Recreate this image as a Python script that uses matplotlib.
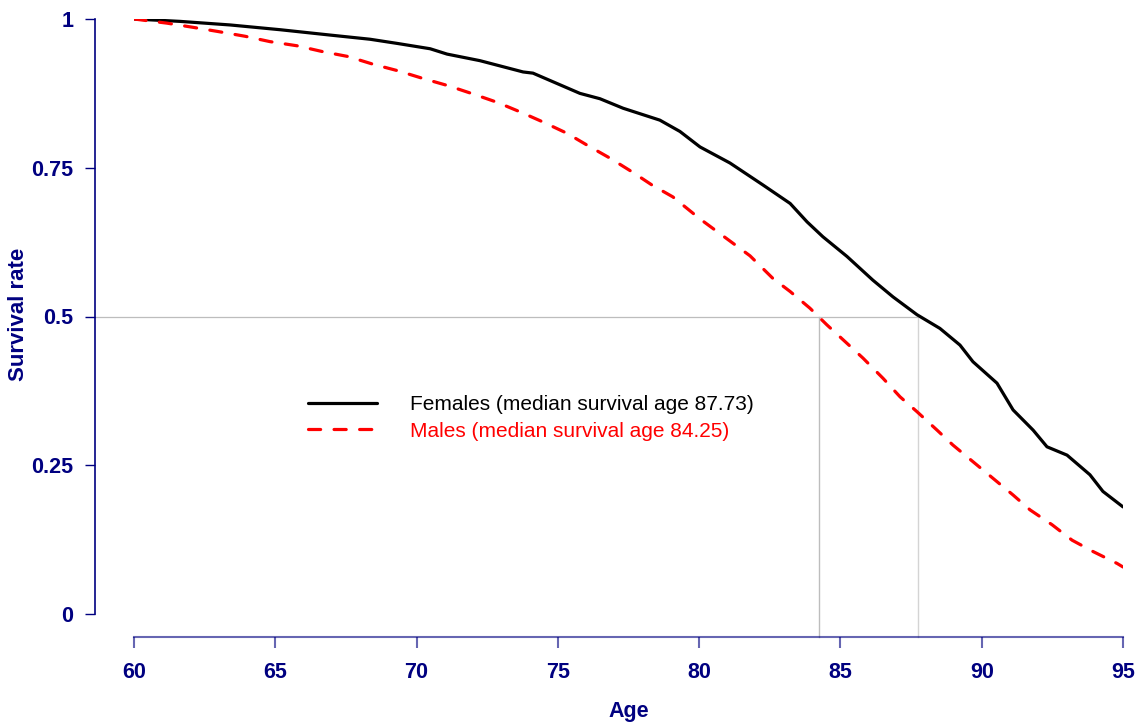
import matplotlib
matplotlib.use("Agg")
import matplotlib.pyplot as plt
from matplotlib.transforms import blended_transform_factory

# ---- data ----
female_age = [60.00, 61.63, 63.40, 65.17, 66.94, 68.35, 69.31, 70.48, 71.08, 72.24,
              73.77, 74.12, 75.78, 76.49, 77.31, 78.61, 79.32, 80.03, 81.09, 82.26,
              83.22, 83.82, 84.38, 85.23, 86.15, 86.86, 87.71, 88.52, 89.23, 89.69,
              90.54, 91.11, 91.82, 92.31, 93.02, 93.83, 94.29, 95.00]
female_surv = [1.000, 0.996, 0.990, 0.982, 0.973, 0.966, 0.959, 0.950, 0.941, 0.930,
               0.911, 0.909, 0.875, 0.866, 0.850, 0.830, 0.811, 0.785, 0.758, 0.721,
               0.690, 0.659, 0.634, 0.601, 0.561, 0.533, 0.503, 0.480, 0.452, 0.424,
               0.388, 0.343, 0.309, 0.281, 0.267, 0.234, 0.206, 0.180]
male_age = [60.00, 61.17, 62.09, 62.97, 63.93, 64.81, 65.77, 66.69, 67.57, 68.46,
            69.34, 70.23, 71.11, 72.00, 72.85, 73.66, 74.47, 75.32, 76.07, 76.85,
            77.63, 78.33, 79.07, 80.03, 81.80, 82.61, 83.22, 83.92, 84.52, 85.23,
            85.80, 86.51, 87.11, 87.71, 88.42, 88.98, 89.69, 90.40, 91.11, 91.71,
            92.49, 93.20, 93.94, 94.79, 95.00]
male_surv = [1.000, 0.993, 0.986, 0.979, 0.971, 0.962, 0.955, 0.945, 0.937, 0.924,
             0.913, 0.900, 0.888, 0.874, 0.860, 0.844, 0.827, 0.808, 0.787, 0.766,
             0.743, 0.721, 0.701, 0.664, 0.602, 0.564, 0.542, 0.514, 0.486, 0.455,
             0.430, 0.396, 0.365, 0.340, 0.309, 0.284, 0.256, 0.228, 0.200, 0.175,
             0.150, 0.124, 0.105, 0.085, 0.079]
median_female = 87.73
median_male = 84.25
x_ticks = [60, 65, 70, 75, 80, 85, 90, 95]
y_ticks = [0, 0.25, 0.5, 0.75, 1]
y_ticklabels = ["0", "0.25", "0.5", "0.75", "1"]
labels = ["Females (median survival age 87.73)", "Males (median survival age 84.25)"]

plt.rcParams['font.family'] = ['Liberation Sans', 'DejaVu Sans']
navy = '#000080'

W, H = 1136, 723
fig = plt.figure(figsize=(W / 100, H / 100), dpi=100)
L, R, T, B = 134, 1123, 19, 614
ax = fig.add_axes([L / W, 1 - B / H, (R - L) / W, (B - T) / H])
ax.set_xlim(60, 95)
ax.set_ylim(0, 1)

off_left_px = 39
off_bottom_px = 23
for s in ['top', 'right']:
    ax.spines[s].set_visible(False)
ax.spines['left'].set_position(('outward', off_left_px * 0.72))
ax.spines['bottom'].set_position(('outward', off_bottom_px * 0.72))
ax.spines['left'].set_color(navy)
ax.spines['left'].set_linewidth(1.2)
ax.spines['bottom'].set_color(navy)
ax.spines['bottom'].set_alpha(0.6)
ax.spines['bottom'].set_linewidth(1.5)

ax.set_xticks(x_ticks)
ax.set_yticks(y_ticks)
ax.set_yticklabels(y_ticklabels)
ax.tick_params(axis='y', colors=navy, length=7.2, width=1.0, pad=8.2, labelsize=15.5)
ax.tick_params(axis='x', colors=navy, length=7.8, width=1.5, pad=10.2, labelsize=15.5)
for lab in ax.get_yticklabels():
    lab.set_fontweight('bold')
for lab in ax.get_xticklabels():
    lab.set_fontweight('bold')
for t in ax.xaxis.get_ticklines():
    t.set_alpha(0.6)

fig.text(629 / W, 1 - 711 / H, 'Age', fontsize=15.5, fontweight='bold', color=navy,
         ha='center', va='center')
fig.text(19 / W, 1 - 314 / H, 'Survival rate', fontsize=16, fontweight='bold', color=navy,
         ha='center', va='center', rotation=90)

# median guide lines
axw = R - L
axh = B - T
tx = blended_transform_factory(ax.transAxes, ax.transData)
x_med_f = (median_female - 60) / 35
ax.plot([-off_left_px / axw, x_med_f], [0.5, 0.5], transform=tx, color='#bdbdbd',
        lw=0.9, clip_on=False, zorder=1)
ty = blended_transform_factory(ax.transData, ax.transAxes)
for m, c in [(median_male, '#bdbdbd'), (median_female, '#d4d4d4')]:
    ax.plot([m, m], [-off_bottom_px / axh, 0.5], transform=ty, color=c,
            lw=1.0, clip_on=False, zorder=1)

lf, = ax.plot(female_age, female_surv, color='black', lw=2.3, zorder=3,
              solid_capstyle='round', solid_joinstyle='round')
lm, = ax.plot(male_age, male_surv, color='red', lw=2.3, zorder=3,
              dashes=(3.8, 4.2), dash_capstyle='round')

leg = ax.legend([lf, lm], labels, loc='center left',
                bbox_to_anchor=(308 / W, 1 - 418 / H), bbox_transform=fig.transFigure,
                frameon=False, fontsize=15, handlelength=3.3, handletextpad=1.6,
                labelspacing=0.35, borderpad=0, borderaxespad=0,
                labelcolor=['black', 'red'])

fig.savefig('out.png', dpi=100)
